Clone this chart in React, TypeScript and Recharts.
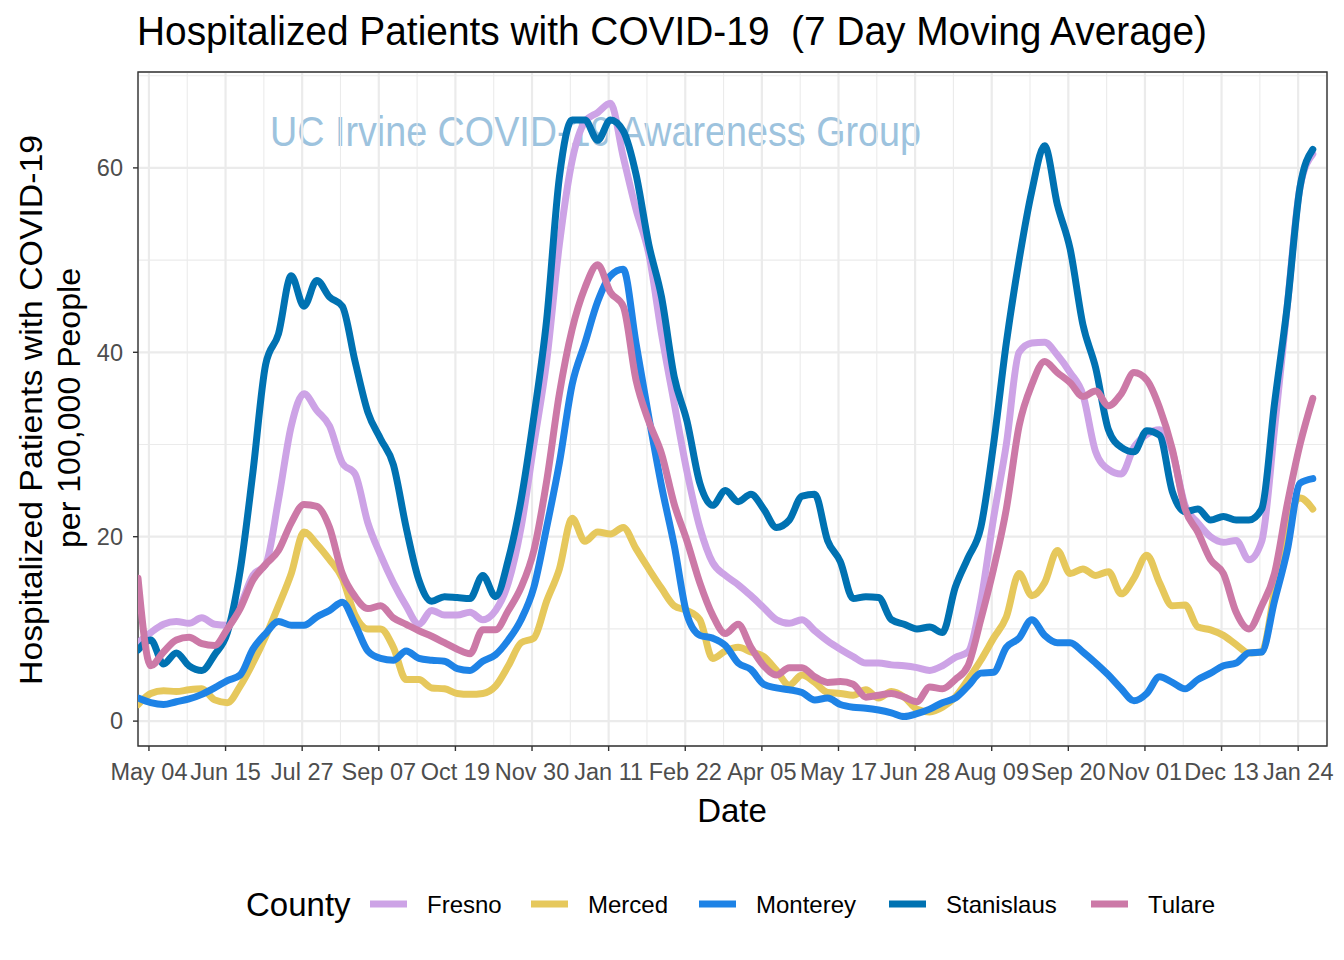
import React from "react";
import { CartesianGrid, Line, LineChart, ReferenceArea, XAxis, YAxis } from "recharts";

const FONT = '"Liberation Sans", Arial, Helvetica, sans-serif';

// 7 day moving average, sampled once a week starting on this date
const firstDate = "2020-04-28";
const sampleStep = 7;

const fresno = [
  8.5, 9.6, 10.5, 10.8, 10.6, 11.2, 10.5, 10.4, 12.5, 15.8,
  17, 24, 32, 35.5, 33.7, 32, 28, 26.8, 21.5, 18,
  15, 12.5, 10.5, 12, 11.5, 11.5, 11.8, 11, 12, 15,
  21, 30, 39, 51.7, 60.8, 65, 66, 67, 61.2, 55.5,
  50.7, 42, 34.4, 27, 21, 17.2, 15.8, 14.8, 13.6, 12.3,
  11, 10.6, 11, 9.8, 8.7, 7.8, 7, 6.3, 6.3, 6.1,
  6, 5.8, 5.5, 6, 6.9, 7.5, 13, 22, 30, 40,
  41, 41.1, 39.7, 37.8, 35.4, 29.2, 27.3, 26.8, 29.7, 31.1,
  31.6, 29.2, 23.4, 21.5, 20, 19.4, 19.6, 17.5, 19.5, 31.6,
  45, 57.9, 61.5,
];

const merced = [
  1.8, 3.0, 3.3, 3.2, 3.4, 3.5, 2.3, 2.0, 3.8, 6.3,
  9.2, 12.5, 16, 20.5, 19.2, 17.5, 15.5, 11.5, 10, 10,
  8, 4.5, 4.5, 3.6, 3.5, 3.0, 2.9, 3.0, 3.8, 6,
  8.5, 9, 13, 16.5, 22, 19.5, 20.5, 20.3, 21, 18.7,
  16.5, 14.4, 12.5, 12, 11, 6.8, 7.6, 8, 7.5, 7.0,
  5.5, 3.9, 5.0, 4.2, 3.1, 3.0, 2.8, 3.4, 2.5, 3.2,
  2.6, 1.3, 1.0, 1.5, 2.6, 4.5, 6.6, 9, 11.3, 16,
  13.6, 15, 18.5, 16, 16.5, 15.8, 16.2, 13.8, 15.5, 18,
  15, 12.5, 12.6, 10.2, 9.9, 9.3, 8.3, 7.4, 7.5, 14,
  21, 24.2, 23,
];

const monterey = [
  2.5, 2.0, 1.8, 2.1, 2.4, 2.9, 3.6, 4.4, 5.0, 7.8,
  9.5, 10.8, 10.4, 10.4, 11.3, 12, 12.9, 10.5, 7.6, 6.8,
  6.6, 7.6, 6.8, 6.6, 6.5, 5.7, 5.5, 6.5, 7.2, 8.8,
  11, 14.5, 21, 28, 36.5, 41, 45.5, 48.3, 49, 41,
  33, 25.5, 19, 11.5, 9.3, 9.0, 8.2, 6.3, 5.6, 4.0,
  3.6, 3.4, 3.1, 2.3, 2.5, 1.8, 1.5, 1.4, 1.2, 0.9,
  0.5, 0.8, 1.3, 2, 2.5, 3.8, 5.2, 5.3, 8, 9,
  11, 9.3, 8.5, 8.5, 7.5, 6.3, 5, 3.5, 2.2, 3,
  4.8, 4.2, 3.5, 4.5, 5.2, 6.0, 6.3, 7.4, 7.5, 13,
  18.5, 25.8, 26.3,
];

const stanislaus = [
  7.7, 8.8, 6.2, 7.4, 6.0, 5.5, 7.2, 9.6, 16.3, 27,
  38.7, 42, 48.3, 45, 47.8, 46, 45, 39, 33.5, 30.6,
  27.8, 21, 15.3, 13, 13.5, 13.4, 13.3, 15.8, 13.5, 17.5,
  24, 33, 43.5, 59, 65.2, 65.2, 63, 65.2, 64, 59.3,
  51.7, 46, 37.3, 32.5, 25.8, 23.4, 25, 23.8, 24.6, 23,
  21, 21.8, 24.4, 24.6, 19.6, 17.3, 13.3, 13.5, 13.4, 11,
  10.5, 10, 10.2, 9.6, 14.5, 17.7, 21, 30, 41, 50,
  57.5, 62.4, 56, 51.2, 43, 38.3, 31.6, 29.7, 29.2, 31.5,
  31, 24.9, 22.7, 23, 21.8, 22.2, 21.8, 21.8, 23, 34.4,
  45, 57.9, 62,
];

const tulare = [
  15.5, 6.0, 7.5, 8.8, 9.1, 8.4, 8.2, 10, 12.2, 15.3,
  17, 18.5, 21.5, 23.5, 23.3, 21, 16, 13.5, 12.2, 12.5,
  11.2, 10.5, 9.8, 9.2, 8.5, 7.8, 7.3, 9.9, 9.9, 12,
  14.5, 18.5, 26, 35.5, 42.5, 47, 49.5, 46.5, 45, 37,
  32.5, 29, 23.5, 19.5, 15, 11.5, 9.5, 10.5, 8, 6,
  5, 5.8, 5.8, 4.8, 4.2, 4.3, 4, 2.6, 2.8, 3,
  2.6, 2.1, 3.7, 3.5, 4.5, 6, 11, 16.5, 23, 32,
  36.5, 39, 37.8, 36.7, 35.2, 35.8, 34.2, 35.5, 37.8, 37,
  34, 29.5, 23, 20.5, 17.5, 16, 11.8, 10, 12.5, 16,
  23.5, 30, 35,
];

const counties = ["Fresno", "Merced", "Monterey", "Stanislaus", "Tulare"];
const countyColors = ["#CDA3E6", "#E6C85C", "#1E83E6", "#0072B2", "#CC79A7"];
const seriesValues = [fresno, merced, monterey, stanislaus, tulare];

const tickDates = [
  "2020-05-04", "2020-06-15", "2020-07-27", "2020-09-07", "2020-10-19", "2020-11-30",
  "2021-01-11", "2021-02-22", "2021-04-05", "2021-05-17", "2021-06-28", "2021-08-09",
  "2021-09-20", "2021-11-01", "2021-12-13", "2022-01-24",
];
const tickLabels = [
  "May 04", "Jun 15", "Jul 27", "Sep 07", "Oct 19", "Nov 30",
  "Jan 11", "Feb 22", "Apr 05", "May 17", "Jun 28", "Aug 09",
  "Sep 20", "Nov 01", "Dec 13", "Jan 24",
];
const yTicks = [0, 20, 40, 60];
const yMinor = [10, 30, 50, 70];

const DAY = 86400000;
const BASE = Date.parse(tickDates[0]);
const toDay = (s: string) => Math.round((Date.parse(s) - BASE) / DAY);

const X_MIN = toDay("2020-04-28");
const X_MAX = toDay("2022-02-09") - 0.2;
const Y_MIN = -2.7;
const Y_MAX = 70.4;

const firstDay = toDay(firstDate);
const data = fresno.map((_, i) => {
  const row: Record<string, number> = { day: firstDay + i * sampleStep };
  counties.forEach((c, j) => {
    row[c] = seriesValues[j][i];
  });
  return row;
});

const tickDays = tickDates.map(toDay);
const minorDays = tickDays.slice(0, -1).map((d, i) => (d + tickDays[i + 1]) / 2);

const lin = (v: number, d0: number, d1: number, p0: number, p1: number) =>
  p0 + ((v - d0) / (d1 - d0)) * (p1 - p0);

const minorHorizontal = (props: any) => {
  const { yAxis, offset } = props;
  if (yAxis && typeof yAxis.scale === "function") return yMinor.map((v) => yAxis.scale(v));
  return yMinor.map((v) => lin(v, Y_MAX, Y_MIN, offset.top, offset.top + offset.height));
};

const minorVertical = (props: any) => {
  const { xAxis, offset } = props;
  if (xAxis && typeof xAxis.scale === "function") return minorDays.map((d) => xAxis.scale(d));
  return minorDays.map((d) => lin(d, X_MIN, X_MAX, offset.left, offset.left + offset.width));
};

const tickStyle = { fill: "#4D4D4D", fontSize: 23.5, fontFamily: FONT };
const legendKeyX = [370, 531, 699, 889, 1091];

export default function App() {
  return (
    <div style={{ position: "relative", width: 1344, height: 960, background: "#fff", fontFamily: FONT }}>
      <style>{"body{margin:0}"}</style>

      {/* watermark sits under the series */}
      <svg width={1344} height={960} style={{ position: "absolute", left: 0, top: 0 }}>
        <text x={270} y={146} fontSize={42} fill="#9DC3DE" textLength={651} lengthAdjust="spacingAndGlyphs" fontFamily={FONT}>
          UC Irvine COVID-19 Awareness Group
        </text>
      </svg>

      <div style={{ position: "absolute", left: 0, top: 0 }}>
        <LineChart width={1344} height={960} data={data} margin={{ top: 72, right: 17, bottom: 174, left: 0 }}>
          <CartesianGrid
            stroke="#EBEBEB"
            strokeWidth={1.1}
            horizontalCoordinatesGenerator={minorHorizontal}
            verticalCoordinatesGenerator={minorVertical}
          />
          <CartesianGrid stroke="#EBEBEB" strokeWidth={2.2} />
          <XAxis
            type="number"
            dataKey="day"
            domain={[X_MIN, X_MAX]}
            ticks={tickDays}
            interval={0}
            allowDataOverflow
            height={40}
            axisLine={false}
            tickSize={5}
            tickMargin={12}
            tickLine={{ stroke: "#333333", strokeWidth: 1.4 }}
            tick={tickStyle}
            tickFormatter={(v: number) => tickLabels[tickDays.indexOf(v)] ?? ""}
          />
          <YAxis
            type="number"
            domain={[Y_MIN, Y_MAX]}
            ticks={yTicks}
            interval={0}
            allowDataOverflow
            width={138}
            axisLine={false}
            tickSize={5}
            tickMargin={10}
            tickLine={{ stroke: "#333333", strokeWidth: 1.4 }}
            tick={tickStyle}
          />
          {counties.map((c, i) => (
            <Line
              key={c}
              type="monotone"
              dataKey={c}
              stroke={countyColors[i]}
              strokeWidth={7}
              strokeLinejoin="round"
              strokeLinecap="round"
              dot={false}
              activeDot={false}
              isAnimationActive={false}
            />
          ))}
          <ReferenceArea
            x1={X_MIN}
            x2={X_MAX}
            y1={Y_MIN}
            y2={Y_MAX}
            fill="none"
            fillOpacity={0}
            stroke="#333333"
            strokeWidth={1.4}
            ifOverflow="visible"
          />
        </LineChart>
      </div>

      <svg width={1344} height={960} style={{ position: "absolute", left: 0, top: 0, pointerEvents: "none" }} fontFamily={FONT}>
        <text x={137} y={45} fontSize={40} fill="#000" textLength={1070} lengthAdjust="spacingAndGlyphs" style={{ whiteSpace: "pre" }}>
          {"Hospitalized Patients with COVID-19  (7 Day Moving Average)"}
        </text>
        <text transform="translate(42,410) rotate(-90)" textAnchor="middle" fontSize={32} textLength={550} lengthAdjust="spacingAndGlyphs">
          Hospitalized Patients with COVID-19
        </text>
        <text transform="translate(80,408) rotate(-90)" textAnchor="middle" fontSize={32} textLength={280} lengthAdjust="spacingAndGlyphs">
          per 100,000 People
        </text>
        <text x={732} y={822} textAnchor="middle" fontSize={33}>
          Date
        </text>

        <text x={246} y={916} fontSize={33}>
          County
        </text>
        {counties.map((c, i) => (
          <g key={c}>
            <line x1={legendKeyX[i]} x2={legendKeyX[i] + 37} y1={904} y2={904} stroke={countyColors[i]} strokeWidth={7} />
            <text x={legendKeyX[i] + 57} y={913} fontSize={24} fill="#000">
              {c}
            </text>
          </g>
        ))}
      </svg>
    </div>
  );
}
